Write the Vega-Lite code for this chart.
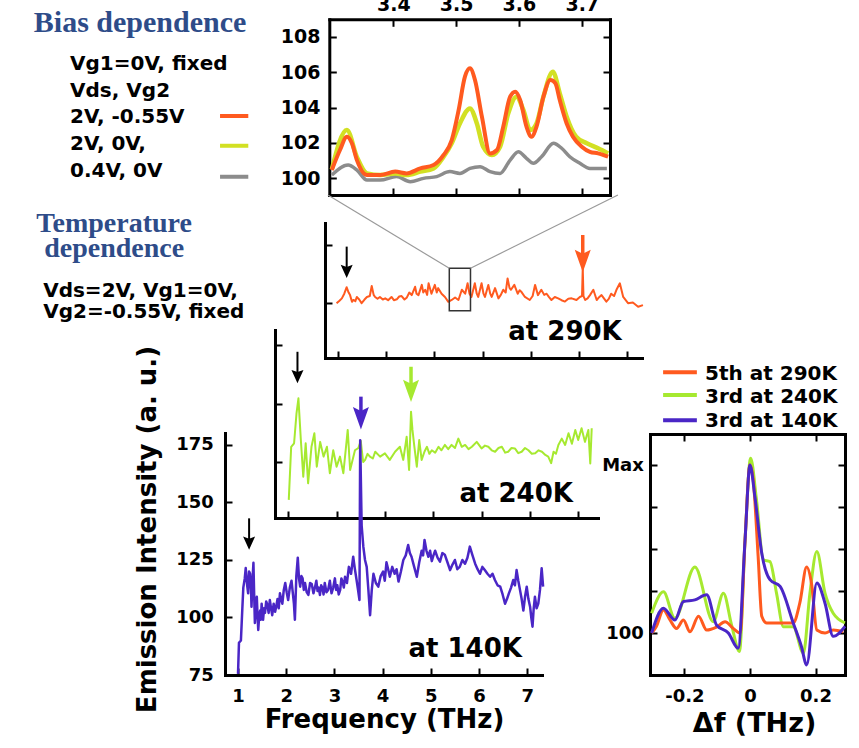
{
"$schema": "https://vega.github.io/schema/vega-lite/v6.json",
"width": 859, "height": 748, "padding": 0, "autosize": {"type": "none"},
"background": "white",
"config": {
  "view": {"stroke": null},
  "axis": {"grid": false, "domainColor": "#000", "domainWidth": 3, "domainCap": "square", "tickColor": "#000", "tickWidth": 2, "tickSize": -7,
    "labelColor": "#000", "labelFont": "DejaVu Sans", "labelFontWeight": "bold", "labelFontSize": 18, "labelFlush": false, "labelOverlap": false,
    "titleColor": "#000", "titleFont": "DejaVu Sans", "titleFontWeight": "bold", "titleFontSize": 26}
},
"datasets": {
  "inset": [
    {"series":"2V/-0.55V","f":3.302,"v":100.47},{"series":"2V/-0.55V","f":3.315,"v":101.6},{"series":"2V/-0.55V","f":3.326,"v":102.35},{"series":"2V/-0.55V","f":3.334,"v":101.98},{"series":"2V/-0.55V","f":3.342,"v":101.03},{"series":"2V/-0.55V","f":3.358,"v":100.19},{"series":"2V/-0.55V","f":3.379,"v":100.19},{"series":"2V/-0.55V","f":3.403,"v":100.38},{"series":"2V/-0.55V","f":3.421,"v":100.28},{"series":"2V/-0.55V","f":3.443,"v":100.56},{"series":"2V/-0.55V","f":3.464,"v":100.75},{"series":"2V/-0.55V","f":3.48,"v":101.32},{"series":"2V/-0.55V","f":3.493,"v":102.16},{"series":"2V/-0.55V","f":3.504,"v":103.86},{"series":"2V/-0.55V","f":3.514,"v":105.74},{"series":"2V/-0.55V","f":3.522,"v":106.21},{"series":"2V/-0.55V","f":3.53,"v":105.55},{"series":"2V/-0.55V","f":3.541,"v":103.48},{"series":"2V/-0.55V","f":3.554,"v":101.41},{"series":"2V/-0.55V","f":3.565,"v":101.6},{"series":"2V/-0.55V","f":3.575,"v":102.92},{"series":"2V/-0.55V","f":3.586,"v":104.61},{"series":"2V/-0.55V","f":3.594,"v":104.89},{"series":"2V/-0.55V","f":3.602,"v":104.42},{"series":"2V/-0.55V","f":3.612,"v":102.92},{"series":"2V/-0.55V","f":3.62,"v":102.35},{"series":"2V/-0.55V","f":3.628,"v":102.92},{"series":"2V/-0.55V","f":3.639,"v":104.61},{"series":"2V/-0.55V","f":3.65,"v":105.55},{"series":"2V/-0.55V","f":3.658,"v":105.37},{"series":"2V/-0.55V","f":3.665,"v":104.42},{"series":"2V/-0.55V","f":3.676,"v":103.1},{"series":"2V/-0.55V","f":3.686,"v":102.35},{"series":"2V/-0.55V","f":3.7,"v":101.79},{"series":"2V/-0.55V","f":3.713,"v":101.5},{"series":"2V/-0.55V","f":3.726,"v":101.41},{"series":"2V/-0.55V","f":3.742,"v":101.22},
    {"series":"2V/0V","f":3.302,"v":100.5},{"series":"2V/0V","f":3.326,"v":102.73},{"series":"2V/0V","f":3.342,"v":101.2},{"series":"2V/0V","f":3.358,"v":100.28},{"series":"2V/0V","f":3.379,"v":100.19},{"series":"2V/0V","f":3.403,"v":100.28},{"series":"2V/0V","f":3.421,"v":100.19},{"series":"2V/0V","f":3.443,"v":100.38},{"series":"2V/0V","f":3.464,"v":100.56},{"series":"2V/0V","f":3.48,"v":101.22},{"series":"2V/0V","f":3.493,"v":101.98},{"series":"2V/0V","f":3.506,"v":103.1},{"series":"2V/0V","f":3.522,"v":103.95},{"series":"2V/0V","f":3.533,"v":103.1},{"series":"2V/0V","f":3.543,"v":101.79},{"series":"2V/0V","f":3.557,"v":101.32},{"series":"2V/0V","f":3.57,"v":101.79},{"series":"2V/0V","f":3.583,"v":103.67},{"series":"2V/0V","f":3.596,"v":104.61},{"series":"2V/0V","f":3.607,"v":103.86},{"series":"2V/0V","f":3.618,"v":102.73},{"series":"2V/0V","f":3.628,"v":103.1},{"series":"2V/0V","f":3.639,"v":104.61},{"series":"2V/0V","f":3.654,"v":106.02},{"series":"2V/0V","f":3.665,"v":104.8},{"series":"2V/0V","f":3.676,"v":103.48},{"series":"2V/0V","f":3.691,"v":102.35},{"series":"2V/0V","f":3.708,"v":101.98},{"series":"2V/0V","f":3.726,"v":101.7},{"series":"2V/0V","f":3.742,"v":101.41},
    {"series":"0.4V/0V","f":3.302,"v":100.19},{"series":"0.4V/0V","f":3.328,"v":100.75},{"series":"0.4V/0V","f":3.342,"v":100.47},{"series":"0.4V/0V","f":3.358,"v":99.9},{"series":"0.4V/0V","f":3.379,"v":99.9},{"series":"0.4V/0V","f":3.405,"v":100.1},{"series":"0.4V/0V","f":3.427,"v":99.81},{"series":"0.4V/0V","f":3.448,"v":100.0},{"series":"0.4V/0V","f":3.469,"v":100.1},{"series":"0.4V/0V","f":3.49,"v":100.38},{"series":"0.4V/0V","f":3.506,"v":100.28},{"series":"0.4V/0V","f":3.522,"v":100.56},{"series":"0.4V/0V","f":3.538,"v":100.66},{"series":"0.4V/0V","f":3.554,"v":100.38},{"series":"0.4V/0V","f":3.57,"v":100.28},{"series":"0.4V/0V","f":3.586,"v":101.03},{"series":"0.4V/0V","f":3.599,"v":101.5},{"series":"0.4V/0V","f":3.612,"v":101.13},{"series":"0.4V/0V","f":3.623,"v":100.85},{"series":"0.4V/0V","f":3.636,"v":101.22},{"series":"0.4V/0V","f":3.655,"v":101.98},{"series":"0.4V/0V","f":3.668,"v":101.7},{"series":"0.4V/0V","f":3.681,"v":101.22},{"series":"0.4V/0V","f":3.697,"v":100.85},{"series":"0.4V/0V","f":3.713,"v":100.56},{"series":"0.4V/0V","f":3.727,"v":100.56},{"series":"0.4V/0V","f":3.74,"v":100.56}
  ],
  "k290": [
    {"f":0.97,"v":99.9},{"f":1.03,"v":101},{"f":1.08,"v":102},{"f":1.13,"v":104},{"f":1.18,"v":106.8},{"f":1.22,"v":104.5},{"f":1.25,"v":103.4},{"f":1.29,"v":100.5},{"f":1.32,"v":101.3},{"f":1.36,"v":100.8},{"f":1.39,"v":102.6},{"f":1.44,"v":101.5},{"f":1.49,"v":99.9},{"f":1.55,"v":101.5},{"f":1.6,"v":102.6},{"f":1.66,"v":103},{"f":1.7,"v":107.3},{"f":1.74,"v":103.5},{"f":1.77,"v":102.6},{"f":1.82,"v":101.8},{"f":1.87,"v":102.6},{"f":1.93,"v":101.5},{"f":1.98,"v":102},{"f":2.04,"v":101.2},{"f":2.11,"v":102.6},{"f":2.16,"v":101.2},{"f":2.22,"v":101.6},{"f":2.27,"v":102.8},{"f":2.32,"v":103},{"f":2.38,"v":101.5},{"f":2.43,"v":102.4},{"f":2.48,"v":104.5},{"f":2.53,"v":103.4},{"f":2.6,"v":107},{"f":2.63,"v":104},{"f":2.67,"v":103.4},{"f":2.74,"v":107.8},{"f":2.77,"v":104.5},{"f":2.81,"v":105.7},{"f":2.85,"v":103.5},{"f":2.88,"v":108.5},{"f":2.94,"v":104},{"f":3.01,"v":107.8},{"f":3.05,"v":104.5},{"f":3.08,"v":106.4},{"f":3.15,"v":104},{"f":3.22,"v":102.6},{"f":3.29,"v":100.5},{"f":3.36,"v":101.3},{"f":3.43,"v":102.4},{"f":3.5,"v":101.3},{"f":3.57,"v":105.7},{"f":3.64,"v":104},{"f":3.69,"v":108.5},{"f":3.73,"v":104},{"f":3.77,"v":102.6},{"f":3.84,"v":108.5},{"f":3.88,"v":104},{"f":3.91,"v":102.6},{"f":3.98,"v":108.5},{"f":4.02,"v":104},{"f":4.05,"v":102.6},{"f":4.12,"v":107.8},{"f":4.16,"v":104},{"f":4.19,"v":102.6},{"f":4.26,"v":106.4},{"f":4.33,"v":102},{"f":4.38,"v":103.5},{"f":4.43,"v":105.7},{"f":4.48,"v":104.5},{"f":4.52,"v":110.6},{"f":4.56,"v":106.5},{"f":4.59,"v":105.7},{"f":4.66,"v":107.8},{"f":4.73,"v":104},{"f":4.77,"v":105.5},{"f":4.81,"v":104.7},{"f":4.88,"v":102.6},{"f":4.98,"v":101.3},{"f":5.04,"v":103},{"f":5.09,"v":107.8},{"f":5.15,"v":103.4},{"f":5.22,"v":105.7},{"f":5.28,"v":103.5},{"f":5.33,"v":104},{"f":5.38,"v":102.5},{"f":5.43,"v":101.3},{"f":5.5,"v":102.6},{"f":5.57,"v":102},{"f":5.64,"v":101.2},{"f":5.71,"v":100.6},{"f":5.78,"v":101.8},{"f":5.85,"v":102},{"f":5.95,"v":101.3},{"f":6.02,"v":102.6},{"f":6.065,"v":103},{"f":6.08,"v":115},{"f":6.095,"v":103},{"f":6.13,"v":101.3},{"f":6.18,"v":102},{"f":6.23,"v":103.4},{"f":6.3,"v":105.7},{"f":6.37,"v":101.3},{"f":6.42,"v":102.5},{"f":6.47,"v":103.4},{"f":6.57,"v":100.6},{"f":6.62,"v":101.8},{"f":6.67,"v":104},{"f":6.73,"v":103},{"f":6.78,"v":105.7},{"f":6.85,"v":108.5},{"f":6.92,"v":102.6},{"f":7.02,"v":99.9},{"f":7.12,"v":100.2},{"f":7.23,"v":98.4},{"f":7.33,"v":99.1}
  ],
  "k240": [
    {"f":1.01,"v":83.8},{"f":1.06,"v":106.5},{"f":1.12,"v":108},{"f":1.17,"v":120.8},{"f":1.21,"v":127.2},{"f":1.26,"v":109.4},{"f":1.31,"v":93.7},{"f":1.36,"v":108},{"f":1.41,"v":90.9},{"f":1.48,"v":106.5},{"f":1.54,"v":112.3},{"f":1.59,"v":98},{"f":1.66,"v":108.6},{"f":1.73,"v":102.3},{"f":1.8,"v":106.5},{"f":1.86,"v":95.2},{"f":1.93,"v":105},{"f":2.0,"v":98},{"f":2.07,"v":102.3},{"f":2.14,"v":95.2},{"f":2.23,"v":113.7},{"f":2.28,"v":96.6},{"f":2.38,"v":105},{"f":2.45,"v":106},{"f":2.5,"v":109},{"f":2.55,"v":100},{"f":2.59,"v":100.9},{"f":2.64,"v":103.5},{"f":2.69,"v":102.3},{"f":2.75,"v":101.5},{"f":2.8,"v":104.4},{"f":2.9,"v":102.3},{"f":3.0,"v":103.7},{"f":3.1,"v":100.9},{"f":3.21,"v":104.4},{"f":3.31,"v":106.5},{"f":3.38,"v":100.9},{"f":3.45,"v":110.8},{"f":3.5,"v":96.6},{"f":3.54,"v":121.5},{"f":3.57,"v":113.7},{"f":3.61,"v":106.5},{"f":3.66,"v":98},{"f":3.71,"v":109.4},{"f":3.76,"v":100.9},{"f":3.82,"v":104.5},{"f":3.87,"v":106.5},{"f":3.92,"v":103.5},{"f":3.97,"v":105},{"f":4.04,"v":104},{"f":4.11,"v":106.5},{"f":4.17,"v":105},{"f":4.24,"v":107.3},{"f":4.31,"v":105.5},{"f":4.38,"v":107.3},{"f":4.45,"v":106},{"f":4.52,"v":110},{"f":4.59,"v":106.5},{"f":4.66,"v":107.3},{"f":4.73,"v":105.5},{"f":4.8,"v":106.5},{"f":4.9,"v":108.6},{"f":5.0,"v":105.8},{"f":5.07,"v":107},{"f":5.14,"v":106.5},{"f":5.21,"v":105},{"f":5.28,"v":104.4},{"f":5.35,"v":106},{"f":5.42,"v":106.5},{"f":5.49,"v":104},{"f":5.55,"v":104.4},{"f":5.62,"v":106},{"f":5.69,"v":105.8},{"f":5.76,"v":103.8},{"f":5.83,"v":104.4},{"f":5.9,"v":106},{"f":5.97,"v":105},{"f":6.04,"v":103.5},{"f":6.11,"v":103.7},{"f":6.18,"v":105},{"f":6.25,"v":104.4},{"f":6.32,"v":103},{"f":6.38,"v":102.3},{"f":6.44,"v":99.5},{"f":6.49,"v":104.4},{"f":6.54,"v":103.5},{"f":6.59,"v":107.3},{"f":6.66,"v":110},{"f":6.73,"v":107.3},{"f":6.8,"v":112.3},{"f":6.87,"v":107.8},{"f":6.94,"v":113.7},{"f":7.0,"v":109.4},{"f":7.07,"v":114.4},{"f":7.14,"v":108.6},{"f":7.21,"v":113.7},{"f":7.25,"v":99.4},{"f":7.28,"v":114.4}
  ],
  "k140": [
    {"f":1.0,"v":75.5},{"f":1.02,"v":89},{"f":1.06,"v":90},{"f":1.09,"v":104},{"f":1.11,"v":113},{"f":1.14,"v":117},{"f":1.16,"v":121.5},{"f":1.19,"v":114},{"f":1.21,"v":110.5},{"f":1.23,"v":120},{"f":1.25,"v":119},{"f":1.27,"v":112},{"f":1.28,"v":104.7},{"f":1.3,"v":116},{"f":1.32,"v":123.8},{"f":1.335,"v":110},{"f":1.35,"v":97.6},{"f":1.37,"v":104},{"f":1.39,"v":109},{"f":1.405,"v":101},{"f":1.42,"v":94.6},{"f":1.44,"v":101},{"f":1.46,"v":103},{"f":1.475,"v":99},{"f":1.49,"v":106},{"f":1.505,"v":102},{"f":1.52,"v":99},{"f":1.54,"v":104},{"f":1.56,"v":102},{"f":1.585,"v":107},{"f":1.61,"v":105.5},{"f":1.635,"v":102},{"f":1.66,"v":107.6},{"f":1.685,"v":104},{"f":1.71,"v":101},{"f":1.74,"v":106},{"f":1.77,"v":102.5},{"f":1.795,"v":105},{"f":1.82,"v":108},{"f":1.845,"v":104},{"f":1.87,"v":110.5},{"f":1.895,"v":108},{"f":1.92,"v":106},{"f":1.95,"v":112},{"f":1.98,"v":115},{"f":2.01,"v":111},{"f":2.04,"v":107.6},{"f":2.075,"v":113},{"f":2.11,"v":116},{"f":2.14,"v":110},{"f":2.16,"v":106},{"f":2.18,"v":99},{"f":2.21,"v":118},{"f":2.24,"v":126},{"f":2.265,"v":117},{"f":2.29,"v":113.4},{"f":2.315,"v":118},{"f":2.34,"v":117},{"f":2.365,"v":112},{"f":2.39,"v":115},{"f":2.425,"v":111},{"f":2.46,"v":109.8},{"f":2.495,"v":115},{"f":2.53,"v":114.5},{"f":2.565,"v":110.5},{"f":2.6,"v":113.4},{"f":2.625,"v":116},{"f":2.65,"v":111.5},{"f":2.675,"v":113},{"f":2.7,"v":109.8},{"f":2.725,"v":114},{"f":2.75,"v":113},{"f":2.775,"v":110},{"f":2.8,"v":115},{"f":2.835,"v":111},{"f":2.87,"v":112},{"f":2.905,"v":116},{"f":2.94,"v":110.5},{"f":2.975,"v":113},{"f":3.01,"v":117},{"f":3.035,"v":112},{"f":3.06,"v":114},{"f":3.09,"v":110},{"f":3.12,"v":112},{"f":3.145,"v":117},{"f":3.17,"v":115.5},{"f":3.195,"v":113},{"f":3.22,"v":117.7},{"f":3.26,"v":115},{"f":3.3,"v":122},{"f":3.345,"v":119},{"f":3.39,"v":126.4},{"f":3.425,"v":121},{"f":3.46,"v":116.3},{"f":3.49,"v":112},{"f":3.52,"v":107.6},{"f":3.535,"v":177},{"f":3.565,"v":140},{"f":3.6,"v":130.8},{"f":3.635,"v":125},{"f":3.67,"v":122},{"f":3.705,"v":112},{"f":3.74,"v":101},{"f":3.775,"v":112},{"f":3.81,"v":119},{"f":3.86,"v":115},{"f":3.91,"v":113.4},{"f":3.96,"v":118},{"f":4.01,"v":120},{"f":4.045,"v":116},{"f":4.08,"v":124},{"f":4.115,"v":121},{"f":4.15,"v":117.7},{"f":4.2,"v":122},{"f":4.25,"v":119},{"f":4.29,"v":121},{"f":4.33,"v":115.6},{"f":4.38,"v":120},{"f":4.43,"v":125},{"f":4.48,"v":127},{"f":4.53,"v":131.5},{"f":4.565,"v":128},{"f":4.6,"v":126.4},{"f":4.655,"v":122},{"f":4.71,"v":117.7},{"f":4.76,"v":124},{"f":4.81,"v":129},{"f":4.84,"v":127},{"f":4.87,"v":133.7},{"f":4.91,"v":129},{"f":4.95,"v":126.4},{"f":4.985,"v":129},{"f":5.02,"v":124.5},{"f":5.055,"v":127},{"f":5.09,"v":129},{"f":5.14,"v":126},{"f":5.19,"v":124.3},{"f":5.24,"v":128},{"f":5.29,"v":127.3},{"f":5.345,"v":124},{"f":5.4,"v":120.6},{"f":5.45,"v":123},{"f":5.5,"v":125},{"f":5.55,"v":121},{"f":5.6,"v":122},{"f":5.655,"v":125},{"f":5.71,"v":123.4},{"f":5.76,"v":126},{"f":5.81,"v":130.8},{"f":5.865,"v":127},{"f":5.92,"v":123.4},{"f":5.97,"v":121},{"f":6.02,"v":119},{"f":6.07,"v":122},{"f":6.12,"v":120.6},{"f":6.175,"v":119},{"f":6.23,"v":117.7},{"f":6.28,"v":119},{"f":6.33,"v":116.3},{"f":6.385,"v":114},{"f":6.44,"v":113.4},{"f":6.49,"v":110},{"f":6.54,"v":106},{"f":6.58,"v":108},{"f":6.62,"v":110.5},{"f":6.665,"v":113},{"f":6.71,"v":116.3},{"f":6.745,"v":114},{"f":6.78,"v":120.6},{"f":6.815,"v":116},{"f":6.85,"v":112},{"f":6.885,"v":108},{"f":6.92,"v":103},{"f":6.955,"v":109},{"f":6.99,"v":113.4},{"f":7.025,"v":108},{"f":7.06,"v":104.7},{"f":7.085,"v":100},{"f":7.11,"v":96},{"f":7.135,"v":104},{"f":7.16,"v":109},{"f":7.195,"v":104},{"f":7.23,"v":106},{"f":7.265,"v":112},{"f":7.3,"v":121.4},{"f":7.33,"v":113.4}
  ],
  "df": [
    {"series":"5th at 290K","df":-0.3,"v":0},{"series":"5th at 290K","df":-0.286,"v":0.15},{"series":"5th at 290K","df":-0.264,"v":0.55},{"series":"5th at 290K","df":-0.244,"v":0.31},{"series":"5th at 290K","df":-0.224,"v":0.11},{"series":"5th at 290K","df":-0.203,"v":0.31},{"series":"5th at 290K","df":-0.183,"v":0.03},{"series":"5th at 290K","df":-0.157,"v":0.4},{"series":"5th at 290K","df":-0.132,"v":0.07},{"series":"5th at 290K","df":-0.102,"v":0.14},{"series":"5th at 290K","df":-0.076,"v":0.27},{"series":"5th at 290K","df":-0.051,"v":0.11},{"series":"5th at 290K","df":-0.03,"v":0.0},{"series":"5th at 290K","df":-0.015,"v":2.21},{"series":"5th at 290K","df":0.0,"v":4.0},{"series":"5th at 290K","df":0.01,"v":3.64},{"series":"5th at 290K","df":0.025,"v":1.82},{"series":"5th at 290K","df":0.036,"v":0.4},{"series":"5th at 290K","df":0.051,"v":0.24},{"series":"5th at 290K","df":0.092,"v":0.24},{"series":"5th at 290K","df":0.132,"v":0.24},{"series":"5th at 290K","df":0.152,"v":0.71},{"series":"5th at 290K","df":0.173,"v":1.57},{"series":"5th at 290K","df":0.188,"v":1.17},{"series":"5th at 290K","df":0.204,"v":0.07},{"series":"5th at 290K","df":0.229,"v":0.0},{"series":"5th at 290K","df":0.254,"v":0.07},{"series":"5th at 290K","df":0.285,"v":0.03},
    {"series":"3rd at 240K","df":-0.3,"v":0.47},{"series":"3rd at 240K","df":-0.264,"v":0.98},{"series":"3rd at 240K","df":-0.229,"v":0.35},{"series":"3rd at 240K","df":-0.168,"v":1.57},{"series":"3rd at 240K","df":-0.112,"v":0.27},{"series":"3rd at 240K","df":-0.081,"v":0.95},{"series":"3rd at 240K","df":-0.056,"v":0.19},{"series":"3rd at 240K","df":-0.032,"v":-0.44},{"series":"3rd at 240K","df":-0.015,"v":2.21},{"series":"3rd at 240K","df":0.002,"v":4.16},{"series":"3rd at 240K","df":0.02,"v":3.17},{"series":"3rd at 240K","df":0.041,"v":1.74},{"series":"3rd at 240K","df":0.061,"v":1.7},{"series":"3rd at 240K","df":0.081,"v":0.95},{"series":"3rd at 240K","df":0.102,"v":0.15},{"series":"3rd at 240K","df":0.132,"v":0.15},{"series":"3rd at 240K","df":0.163,"v":-0.48},{"series":"3rd at 240K","df":0.183,"v":0.95},{"series":"3rd at 240K","df":0.204,"v":1.94},{"series":"3rd at 240K","df":0.229,"v":0.95},{"series":"3rd at 240K","df":0.254,"v":0.47},{"series":"3rd at 240K","df":0.29,"v":0.24},
    {"series":"3rd at 140K","df":-0.3,"v":0},{"series":"3rd at 140K","df":-0.264,"v":0.59},{"series":"3rd at 140K","df":-0.229,"v":0.31},{"series":"3rd at 140K","df":-0.203,"v":0.75},{"series":"3rd at 140K","df":-0.168,"v":0.79},{"series":"3rd at 140K","df":-0.132,"v":0.91},{"series":"3rd at 140K","df":-0.102,"v":0.19},{"series":"3rd at 140K","df":-0.066,"v":0.0},{"series":"3rd at 140K","df":-0.036,"v":-0.36},{"series":"3rd at 140K","df":-0.015,"v":2.21},{"series":"3rd at 140K","df":0.0,"v":4.0},{"series":"3rd at 140K","df":0.015,"v":3.25},{"series":"3rd at 140K","df":0.036,"v":1.9},{"series":"3rd at 140K","df":0.061,"v":1.27},{"series":"3rd at 140K","df":0.092,"v":1.11},{"series":"3rd at 140K","df":0.132,"v":0.24},{"series":"3rd at 140K","df":0.157,"v":-0.32},{"series":"3rd at 140K","df":0.173,"v":-0.76},{"series":"3rd at 140K","df":0.204,"v":1.19},{"series":"3rd at 140K","df":0.229,"v":0.71},{"series":"3rd at 140K","df":0.254,"v":-0.08},{"series":"3rd at 140K","df":0.29,"v":0.16}
  ],
  "arrows": [
    {"panel":"290K","kind":"fundamental","f":1.18,"top":124.3,"head":113.6},
    {"panel":"290K","kind":"harmonic","f":6.08,"top":129.3,"head":118.1},
    {"panel":"240K","kind":"fundamental","f":1.19,"top":147.1,"head":136.5},
    {"panel":"240K","kind":"harmonic","f":3.54,"top":140.7,"head":130.4},
    {"panel":"140K","kind":"fundamental","f":1.23,"top":143.1,"head":132.3},
    {"panel":"140K","kind":"harmonic","f":3.55,"top":196.0,"head":186.6}
  ],
  "notes": [
    {"group":"biasTitle","x":2.9967,"y":108.28,"text":"Bias dependence"},
    {"group":"biasText","x":2.8852,"y":106.12,"text":"Vg1=0V, fixed"},
    {"group":"biasText","x":2.8852,"y":104.61,"text":"Vds, Vg2"},
    {"group":"biasText","x":2.8852,"y":103.11,"text":"2V, -0.55V"},
    {"group":"biasText","x":2.8852,"y":101.6,"text":"2V, 0V,"},
    {"group":"biasText","x":2.8852,"y":100.09,"text":"0.4V, 0V"},
    {"group":"tempTitle","x":-3.647,"y":130.73,"text":"Temperature"},
    {"group":"tempTitle","x":-3.647,"y":119.83,"text":"dependence"},
    {"group":"tempText","x":-5.12,"y":102.72,"text":"Vds=2V, Vg1=0V,"},
    {"group":"tempText","x":-5.12,"y":93.41,"text":"Vg2=-0.55V, fixed"},
    {"group":"290K","x":6.89,"y":84.05,"text":"at 290K"},
    {"group":"240K","x":6.89,"y":83.03,"text":"at 240K"},
    {"group":"140K","x":6.89,"y":82.96,"text":"at 140K"},
    {"group":"dfLegend","x":-0.137,"y":6.18,"text":"5th at 290K"},
    {"group":"dfLegend","x":-0.137,"y":5.62,"text":"3rd at 240K"},
    {"group":"dfLegend","x":-0.137,"y":5.04,"text":"3rd at 140K"}
  ],
  "swatches": [
    {"group":"bias","series":"2V/-0.55V","x1":3.124,"x2":3.169,"y":103.52},
    {"group":"bias","series":"2V/0V","x1":3.124,"x2":3.169,"y":101.84},
    {"group":"bias","series":"0.4V/0V","x1":3.124,"x2":3.169,"y":100.09},
    {"group":"df","series":"5th at 290K","x1":-0.265,"x2":-0.162,"y":6.21},
    {"group":"df","series":"3rd at 240K","x1":-0.265,"x2":-0.162,"y":5.67},
    {"group":"df","series":"3rd at 140K","x1":-0.265,"x2":-0.162,"y":5.07}
  ],
  "zoombox": [{"f1":3.31,"f2":3.75,"v1":96.68,"v2":114.96}],
  "connectors": [{"f1":3.31,"v1":114.96,"f2":0.79,"v2":146.55},{"f1":3.75,"v1":114.96,"f2":6.81,"v2":146.55}]
},
"resolve": {"scale": {"x": "independent", "y": "independent", "color": "independent", "shape": "independent", "size": "independent", "strokeWidth": "independent"}, "axis": {"x": "independent", "y": "independent"}},
"layer": [
  {"data": {"name": "inset"}, "transform": [{"filter": "datum.series === '0.4V/0V'"}],
   "mark": {"type": "line", "color": "#8c8c8c", "strokeWidth": 3.5, "strokeJoin": "round", "interpolate": "monotone"},
   "encoding": {
     "x": {"field": "f", "type": "quantitative", "scale": {"domain": [3.298, 3.745], "range": [329.3, 610], "zero": false, "nice": false}, "axis": {"orient": "top", "offset": -19.3, "values": [3.4, 3.5, 3.6, 3.7], "format": ".1f", "labelFontSize": 19, "labelPadding": 12, "title": null}},
     "y": {"field": "v", "type": "quantitative", "scale": {"domain": [99.06, 108.98], "range": [195, 19.3], "zero": false, "nice": false}, "axis": {"orient": "left", "offset": -329.3, "values": [100, 102, 104, 106, 108], "labelFontSize": 19, "labelPadding": 16.3, "title": null}}}},
  {"data": {"name": "inset"}, "transform": [{"filter": "datum.series === '2V/0V'"}],
   "mark": {"type": "line", "color": "#d2e023", "strokeWidth": 4.5, "strokeJoin": "round", "interpolate": "monotone"},
   "encoding": {
     "x": {"field": "f", "type": "quantitative", "scale": {"domain": [3.298, 3.745], "range": [329.3, 610], "zero": false, "nice": false}, "axis": {"orient": "bottom", "offset": -553, "values": [3.4, 3.5, 3.6, 3.7], "labels": false, "title": null}},
     "y": {"field": "v", "type": "quantitative", "scale": {"domain": [99.06, 108.98], "range": [195, 19.3], "zero": false, "nice": false}, "axis": {"orient": "right", "offset": -249, "values": [100, 102, 104, 106, 108], "labels": false, "title": null}}}},
  {"data": {"name": "inset"}, "transform": [{"filter": "datum.series === '2V/-0.55V'"}],
   "mark": {"type": "line", "color": "#ff5a1f", "strokeWidth": 4, "strokeJoin": "round", "interpolate": "monotone"},
   "encoding": {
     "x": {"field": "f", "type": "quantitative", "scale": {"domain": [3.298, 3.745], "range": [329.3, 610], "zero": false, "nice": false}, "axis": null},
     "y": {"field": "v", "type": "quantitative", "scale": {"domain": [99.06, 108.98], "range": [195, 19.3], "zero": false, "nice": false}, "axis": null}}},
  {"data": {"name": "notes"}, "transform": [{"filter": "datum.group === 'biasTitle'"}],
   "mark": {"type": "text", "font": "Liberation Serif", "fontWeight": "bold", "fontSize": 30, "color": "#2e4c89", "align": "center", "baseline": "alphabetic"},
   "encoding": {
     "x": {"field": "x", "type": "quantitative", "scale": {"domain": [3.298, 3.745], "range": [329.3, 610], "zero": false, "nice": false}, "axis": null},
     "y": {"field": "y", "type": "quantitative", "scale": {"domain": [99.06, 108.98], "range": [195, 19.3], "zero": false, "nice": false}, "axis": null},
     "text": {"field": "text"}}},
  {"data": {"name": "notes"}, "transform": [{"filter": "datum.group === 'biasText'"}],
   "mark": {"type": "text", "font": "DejaVu Sans", "fontWeight": "bold", "fontSize": 20, "color": "#000", "align": "left", "baseline": "alphabetic"},
   "encoding": {
     "x": {"field": "x", "type": "quantitative", "scale": {"domain": [3.298, 3.745], "range": [329.3, 610], "zero": false, "nice": false}, "axis": null},
     "y": {"field": "y", "type": "quantitative", "scale": {"domain": [99.06, 108.98], "range": [195, 19.3], "zero": false, "nice": false}, "axis": null},
     "text": {"field": "text"}}},
  {"data": {"name": "swatches"}, "transform": [{"filter": "datum.group === 'bias'"}],
   "mark": {"type": "rule", "strokeWidth": 4},
   "encoding": {
     "x": {"field": "x1", "type": "quantitative", "scale": {"domain": [3.298, 3.745], "range": [329.3, 610], "zero": false, "nice": false}, "axis": null},
     "x2": {"field": "x2"},
     "y": {"field": "y", "type": "quantitative", "scale": {"domain": [99.06, 108.98], "range": [195, 19.3], "zero": false, "nice": false}, "axis": null},
     "color": {"field": "series", "type": "nominal", "scale": {"domain": ["2V/-0.55V", "2V/0V", "0.4V/0V"], "range": ["#ff5a1f", "#d2e023", "#8c8c8c"]}, "legend": null}}},

  {"data": {"name": "k290"},
   "mark": {"type": "line", "color": "#ff5a1f", "strokeWidth": 2, "strokeJoin": "round"},
   "encoding": {
     "x": {"field": "f", "type": "quantitative", "scale": {"domain": [0.73, 7.31], "range": [325, 642], "zero": false, "nice": false}, "axis": {"orient": "bottom", "offset": -390, "values": [1, 2, 3, 4, 5, 6, 7], "labels": false, "title": null}},
     "y": {"field": "v", "type": "quantitative", "scale": {"domain": [76.29, 134.48], "range": [358, 223], "zero": false, "nice": false}, "axis": {"orient": "left", "offset": -325, "values": [100, 125], "labels": false, "title": null}}}},
  {"data": {"name": "zoombox"},
   "mark": {"type": "rect", "filled": false, "color": "#333", "strokeWidth": 1.5},
   "encoding": {
     "x": {"field": "f1", "type": "quantitative", "scale": {"domain": [0.73, 7.31], "range": [325, 642], "zero": false, "nice": false}, "axis": null},
     "x2": {"field": "f2"},
     "y": {"field": "v1", "type": "quantitative", "scale": {"domain": [76.29, 134.48], "range": [358, 223], "zero": false, "nice": false}, "axis": null},
     "y2": {"field": "v2"}}},
  {"data": {"name": "connectors"},
   "mark": {"type": "rule", "color": "#9a9a9a", "strokeWidth": 1.2},
   "encoding": {
     "x": {"field": "f1", "type": "quantitative", "scale": {"domain": [0.73, 7.31], "range": [325, 642], "zero": false, "nice": false}, "axis": null},
     "x2": {"field": "f2"},
     "y": {"field": "v1", "type": "quantitative", "scale": {"domain": [76.29, 134.48], "range": [358, 223], "zero": false, "nice": false}, "axis": null},
     "y2": {"field": "v2"}}},
  {"data": {"name": "arrows"}, "transform": [{"filter": "datum.panel === '290K'"}],
   "mark": {"type": "rule"},
   "encoding": {
     "x": {"field": "f", "type": "quantitative", "scale": {"domain": [0.73, 7.31], "range": [325, 642], "zero": false, "nice": false}, "axis": null},
     "y": {"field": "top", "type": "quantitative", "scale": {"domain": [76.29, 134.48], "range": [358, 223], "zero": false, "nice": false}, "axis": null},
     "y2": {"field": "head"},
     "color": {"field": "kind", "type": "nominal", "scale": {"domain": ["fundamental", "harmonic"], "range": ["#000000", "#ff5a1f"]}, "legend": null},
     "strokeWidth": {"field": "kind", "type": "ordinal", "scale": {"domain": ["fundamental", "harmonic"], "range": [2, 3.5]}, "legend": null}}},
  {"data": {"name": "arrows"}, "transform": [{"filter": "datum.panel === '290K'"}],
   "mark": {"type": "point", "filled": true, "opacity": 1, "strokeWidth": 0},
   "encoding": {
     "x": {"field": "f", "type": "quantitative", "scale": {"domain": [0.73, 7.31], "range": [325, 642], "zero": false, "nice": false}, "axis": null},
     "y": {"field": "head", "type": "quantitative", "scale": {"domain": [76.29, 134.48], "range": [358, 223], "zero": false, "nice": false}, "axis": null},
     "color": {"field": "kind", "type": "nominal", "scale": {"domain": ["fundamental", "harmonic"], "range": ["#000000", "#ff5a1f"]}, "legend": null},
     "shape": {"field": "kind", "type": "nominal", "scale": {"domain": ["fundamental", "harmonic"], "range": ["M-1,-1.1L0,-0.75L1,-1.1L0,1.1Z", "M-1,-1.4L0,-0.9L1,-1.4L0,1.4Z"]}, "legend": null},
     "size": {"field": "kind", "type": "ordinal", "scale": {"domain": ["fundamental", "harmonic"], "range": [144, 256]}, "legend": null}}},
  {"data": {"name": "notes"}, "transform": [{"filter": "datum.group === '290K'"}],
   "mark": {"type": "text", "font": "DejaVu Sans", "fontWeight": "bold", "fontSize": 26, "color": "#000", "align": "right", "baseline": "alphabetic"},
   "encoding": {
     "x": {"field": "x", "type": "quantitative", "scale": {"domain": [0.73, 7.31], "range": [325, 642], "zero": false, "nice": false}, "axis": null},
     "y": {"field": "y", "type": "quantitative", "scale": {"domain": [76.29, 134.48], "range": [358, 223], "zero": false, "nice": false}, "axis": null},
     "text": {"field": "text"}}},
  {"data": {"name": "notes"}, "transform": [{"filter": "datum.group === 'tempTitle'"}],
   "mark": {"type": "text", "font": "Liberation Serif", "fontWeight": "bold", "fontSize": 28, "color": "#2e4c89", "align": "center", "baseline": "alphabetic"},
   "encoding": {
     "x": {"field": "x", "type": "quantitative", "scale": {"domain": [0.73, 7.31], "range": [325, 642], "zero": false, "nice": false}, "axis": null},
     "y": {"field": "y", "type": "quantitative", "scale": {"domain": [76.29, 134.48], "range": [358, 223], "zero": false, "nice": false}, "axis": null},
     "text": {"field": "text"}}},
  {"data": {"name": "notes"}, "transform": [{"filter": "datum.group === 'tempText'"}],
   "mark": {"type": "text", "font": "DejaVu Sans", "fontWeight": "bold", "fontSize": 20, "color": "#000", "align": "left", "baseline": "alphabetic"},
   "encoding": {
     "x": {"field": "x", "type": "quantitative", "scale": {"domain": [0.73, 7.31], "range": [325, 642], "zero": false, "nice": false}, "axis": null},
     "y": {"field": "y", "type": "quantitative", "scale": {"domain": [76.29, 134.48], "range": [358, 223], "zero": false, "nice": false}, "axis": null},
     "text": {"field": "text"}}},

  {"data": {"name": "k240"},
   "mark": {"type": "line", "color": "#a6e930", "strokeWidth": 2, "strokeJoin": "round"},
   "encoding": {
     "x": {"field": "f", "type": "quantitative", "scale": {"domain": [0.725, 7.41], "range": [275, 598], "zero": false, "nice": false}, "axis": {"orient": "bottom", "offset": -230, "values": [1, 2, 3, 4, 5, 6, 7], "labels": false, "title": null}},
     "y": {"field": "v", "type": "quantitative", "scale": {"domain": [76.07, 156.41], "range": [518, 330], "zero": false, "nice": false}, "axis": {"orient": "left", "offset": -275, "values": [100, 125, 150], "labels": false, "title": null}}}},
  {"data": {"name": "arrows"}, "transform": [{"filter": "datum.panel === '240K'"}],
   "mark": {"type": "rule"},
   "encoding": {
     "x": {"field": "f", "type": "quantitative", "scale": {"domain": [0.725, 7.41], "range": [275, 598], "zero": false, "nice": false}, "axis": null},
     "y": {"field": "top", "type": "quantitative", "scale": {"domain": [76.07, 156.41], "range": [518, 330], "zero": false, "nice": false}, "axis": null},
     "y2": {"field": "head"},
     "color": {"field": "kind", "type": "nominal", "scale": {"domain": ["fundamental", "harmonic"], "range": ["#000000", "#a6e930"]}, "legend": null},
     "strokeWidth": {"field": "kind", "type": "ordinal", "scale": {"domain": ["fundamental", "harmonic"], "range": [2, 3.5]}, "legend": null}}},
  {"data": {"name": "arrows"}, "transform": [{"filter": "datum.panel === '240K'"}],
   "mark": {"type": "point", "filled": true, "opacity": 1, "strokeWidth": 0},
   "encoding": {
     "x": {"field": "f", "type": "quantitative", "scale": {"domain": [0.725, 7.41], "range": [275, 598], "zero": false, "nice": false}, "axis": null},
     "y": {"field": "head", "type": "quantitative", "scale": {"domain": [76.07, 156.41], "range": [518, 330], "zero": false, "nice": false}, "axis": null},
     "color": {"field": "kind", "type": "nominal", "scale": {"domain": ["fundamental", "harmonic"], "range": ["#000000", "#a6e930"]}, "legend": null},
     "shape": {"field": "kind", "type": "nominal", "scale": {"domain": ["fundamental", "harmonic"], "range": ["M-1,-1.1L0,-0.75L1,-1.1L0,1.1Z", "M-1,-1.4L0,-0.9L1,-1.4L0,1.4Z"]}, "legend": null},
     "size": {"field": "kind", "type": "ordinal", "scale": {"domain": ["fundamental", "harmonic"], "range": [144, 256]}, "legend": null}}},
  {"data": {"name": "notes"}, "transform": [{"filter": "datum.group === '240K'"}],
   "mark": {"type": "text", "font": "DejaVu Sans", "fontWeight": "bold", "fontSize": 26, "color": "#000", "align": "right", "baseline": "alphabetic"},
   "encoding": {
     "x": {"field": "x", "type": "quantitative", "scale": {"domain": [0.725, 7.41], "range": [275, 598], "zero": false, "nice": false}, "axis": null},
     "y": {"field": "y", "type": "quantitative", "scale": {"domain": [76.07, 156.41], "range": [518, 330], "zero": false, "nice": false}, "axis": null},
     "text": {"field": "text"}}},

  {"data": {"name": "k140"},
   "mark": {"type": "line", "color": "#4a26c6", "strokeWidth": 2.5, "strokeJoin": "round"},
   "encoding": {
     "x": {"field": "f", "type": "quantitative", "scale": {"domain": [0.73, 7.307], "range": [225, 542], "zero": false, "nice": false}, "axis": {"orient": "bottom", "offset": -73, "values": [1, 2, 3, 4, 5, 6, 7], "labelPadding": 19.7, "title": "Frequency (THz)", "titleX": 384, "titleY": 52, "titleBaseline": "alphabetic", "titleAlign": "center"}},
     "y": {"field": "v", "type": "quantitative", "scale": {"domain": [75, 180.2], "range": [675, 433], "zero": false, "nice": false}, "axis": {"orient": "left", "offset": -225, "values": [75, 100, 125, 150, 175], "labelPadding": 18.7, "title": "Emission Intensity (a. u.)", "titleX": -64.5, "titleY": 529, "titleAngle": 270, "titleBaseline": "bottom", "titleAlign": "center"}}}},
  {"data": {"name": "arrows"}, "transform": [{"filter": "datum.panel === '140K'"}],
   "mark": {"type": "rule"},
   "encoding": {
     "x": {"field": "f", "type": "quantitative", "scale": {"domain": [0.73, 7.307], "range": [225, 542], "zero": false, "nice": false}, "axis": null},
     "y": {"field": "top", "type": "quantitative", "scale": {"domain": [75, 180.2], "range": [675, 433], "zero": false, "nice": false}, "axis": null},
     "y2": {"field": "head"},
     "color": {"field": "kind", "type": "nominal", "scale": {"domain": ["fundamental", "harmonic"], "range": ["#000000", "#4a26c6"]}, "legend": null},
     "strokeWidth": {"field": "kind", "type": "ordinal", "scale": {"domain": ["fundamental", "harmonic"], "range": [2, 3.5]}, "legend": null}}},
  {"data": {"name": "arrows"}, "transform": [{"filter": "datum.panel === '140K'"}],
   "mark": {"type": "point", "filled": true, "opacity": 1, "strokeWidth": 0},
   "encoding": {
     "x": {"field": "f", "type": "quantitative", "scale": {"domain": [0.73, 7.307], "range": [225, 542], "zero": false, "nice": false}, "axis": null},
     "y": {"field": "head", "type": "quantitative", "scale": {"domain": [75, 180.2], "range": [675, 433], "zero": false, "nice": false}, "axis": null},
     "color": {"field": "kind", "type": "nominal", "scale": {"domain": ["fundamental", "harmonic"], "range": ["#000000", "#4a26c6"]}, "legend": null},
     "shape": {"field": "kind", "type": "nominal", "scale": {"domain": ["fundamental", "harmonic"], "range": ["M-1,-1.1L0,-0.75L1,-1.1L0,1.1Z", "M-1,-1.4L0,-0.9L1,-1.4L0,1.4Z"]}, "legend": null},
     "size": {"field": "kind", "type": "ordinal", "scale": {"domain": ["fundamental", "harmonic"], "range": [144, 256]}, "legend": null}}},
  {"data": {"name": "notes"}, "transform": [{"filter": "datum.group === '140K'"}],
   "mark": {"type": "text", "font": "DejaVu Sans", "fontWeight": "bold", "fontSize": 26, "color": "#000", "align": "right", "baseline": "alphabetic"},
   "encoding": {
     "x": {"field": "x", "type": "quantitative", "scale": {"domain": [0.73, 7.307], "range": [225, 542], "zero": false, "nice": false}, "axis": null},
     "y": {"field": "y", "type": "quantitative", "scale": {"domain": [75, 180.2], "range": [675, 433], "zero": false, "nice": false}, "axis": null},
     "text": {"field": "text"}}},

  {"data": {"name": "df"}, "transform": [{"filter": "datum.series === '3rd at 240K'"}],
   "mark": {"type": "line", "color": "#a6e930", "strokeWidth": 3, "strokeJoin": "round", "interpolate": "monotone"},
   "encoding": {
     "x": {"field": "df", "type": "quantitative", "scale": {"domain": [-0.305, 0.29], "range": [650, 845], "zero": false, "nice": false}, "axis": {"orient": "bottom", "offset": -73, "values": [-0.2, 0, 0.2], "labelExpr": "datum.value === 0 ? '0' : (datum.value < 0 ? '-0.2' : '0.2')", "labelPadding": 19.7, "title": "Δf (THz)", "titleFontSize": 27, "titleX": 754, "titleY": 56.7, "titleBaseline": "alphabetic", "titleAlign": "center"}},
     "y": {"field": "v", "type": "quantitative", "scale": {"domain": [-1, 4.74], "range": [675, 434], "zero": false, "nice": false}, "axis": {"orient": "left", "offset": -650, "values": [0, 1, 2, 3, 4], "labelExpr": "datum.value === 0 ? '100' : (datum.value === 4 ? 'Max' : '')", "labelPadding": 13.7, "title": null}}}},
  {"data": {"name": "df"}, "transform": [{"filter": "datum.series === '5th at 290K'"}],
   "mark": {"type": "line", "color": "#ff5a1f", "strokeWidth": 3, "strokeJoin": "round", "interpolate": "monotone"},
   "encoding": {
     "x": {"field": "df", "type": "quantitative", "scale": {"domain": [-0.305, 0.29], "range": [650, 845], "zero": false, "nice": false}, "axis": {"orient": "top", "offset": -434, "values": [-0.2, 0, 0.2], "labels": false, "title": null}},
     "y": {"field": "v", "type": "quantitative", "scale": {"domain": [-1, 4.74], "range": [675, 434], "zero": false, "nice": false}, "axis": {"orient": "right", "offset": -14, "values": [0, 1, 2, 3, 4], "labels": false, "title": null}}}},
  {"data": {"name": "df"}, "transform": [{"filter": "datum.series === '3rd at 140K'"}],
   "mark": {"type": "line", "color": "#4a26c6", "strokeWidth": 3, "strokeJoin": "round", "interpolate": "monotone"},
   "encoding": {
     "x": {"field": "df", "type": "quantitative", "scale": {"domain": [-0.305, 0.29], "range": [650, 845], "zero": false, "nice": false}, "axis": null},
     "y": {"field": "v", "type": "quantitative", "scale": {"domain": [-1, 4.74], "range": [675, 434], "zero": false, "nice": false}, "axis": null}}},
  {"data": {"name": "swatches"}, "transform": [{"filter": "datum.group === 'df'"}],
   "mark": {"type": "rule", "strokeWidth": 4},
   "encoding": {
     "x": {"field": "x1", "type": "quantitative", "scale": {"domain": [-0.305, 0.29], "range": [650, 845], "zero": false, "nice": false}, "axis": null},
     "x2": {"field": "x2"},
     "y": {"field": "y", "type": "quantitative", "scale": {"domain": [-1, 4.74], "range": [675, 434], "zero": false, "nice": false}, "axis": null},
     "color": {"field": "series", "type": "nominal", "scale": {"domain": ["5th at 290K", "3rd at 240K", "3rd at 140K"], "range": ["#ff5a1f", "#a6e930", "#4a26c6"]}, "legend": null}}},
  {"data": {"name": "notes"}, "transform": [{"filter": "datum.group === 'dfLegend'"}],
   "mark": {"type": "text", "font": "DejaVu Sans", "fontWeight": "bold", "fontSize": 20, "color": "#000", "align": "left", "baseline": "middle"},
   "encoding": {
     "x": {"field": "x", "type": "quantitative", "scale": {"domain": [-0.305, 0.29], "range": [650, 845], "zero": false, "nice": false}, "axis": null},
     "y": {"field": "y", "type": "quantitative", "scale": {"domain": [-1, 4.74], "range": [675, 434], "zero": false, "nice": false}, "axis": null},
     "text": {"field": "text"}}}
]
}
